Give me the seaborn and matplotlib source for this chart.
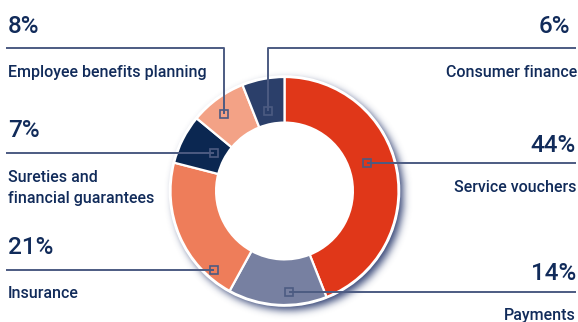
import numpy as np
import matplotlib
matplotlib.use("Agg")
import matplotlib.pyplot as plt
import seaborn as sns
from matplotlib.patches import Circle

# Portfolio breakdown by business line (share of total, %)
segments = ["Service vouchers", "Payments", "Insurance",
            "Sureties and\nfinancial guarantees", "Employee benefits planning",
            "Consumer finance"]
shares = [44, 14, 21, 7, 8, 6]
pct_labels = [f"{v}%" for v in shares]
colors = ["#E03719", "#7780A1", "#EE7D5A", "#0B2751", "#F3A286", "#2B3F6A"]

sns.set_theme(style="white")
plt.rcParams["font.family"] = ["Roboto", "DejaVu Sans"]

TXT = "#112B5A"
LINE = "#4C5B82"
W, H = 578, 322

fig = plt.figure(figsize=(W / 100, H / 100), dpi=100)
ax = fig.add_axes([0, 0, 1, 1])

cx, cy, R = 284.5, 191.0, 114.0

# soft drop shadow below/right of the ring
yy, xx = np.mgrid[0:H, 0:W] + 0.5
disk = (((xx - (cx + 4)) ** 2 + (yy - (cy + 4)) ** 2) <= (R + 1) ** 2).astype(float)
sig = 4.0
k = np.exp(-0.5 * (np.arange(-12, 13) / sig) ** 2)
k /= k.sum()
blur = np.apply_along_axis(lambda r: np.convolve(r, k, mode="same"), 1, disk)
blur = np.apply_along_axis(lambda c: np.convolve(c, k, mode="same"), 0, blur)
shadow = np.zeros((H, W, 4))
shadow[..., :3] = np.array([0x2A, 0x3A, 0x6E]) / 255.0
shadow[..., 3] = np.clip(blur * 0.95, 0, 1)
ax.imshow(shadow, extent=(0, W, H, 0), origin="upper", zorder=0, interpolation="bilinear")

# white rim + hole
ax.add_patch(Circle((cx, cy), R + 1.8, facecolor="white", edgecolor="none", zorder=1))

wedges, _ = ax.pie(shares, colors=colors, radius=R, center=(cx, cy),
                   startangle=-90, counterclock=True, frame=True,
                   wedgeprops=dict(width=R * 0.4, edgecolor="white", linewidth=1.6))
for w in wedges:
    w.set_zorder(2)
ax.add_patch(Circle((cx, cy), R * 0.6 - 0.5, facecolor="white", edgecolor="none", zorder=1.5))

ax.set_xlim(0, W)
ax.set_ylim(H, 0)
ax.set_aspect("equal")
ax.axis("off")

# leader lines: (polyline points, marker point)
leaders = {
    "Employee benefits planning": ([(6, 48), (224, 48), (224, 114)], (224, 114)),
    "Consumer finance": ([(576, 48), (268, 48), (268, 111)], (268, 111)),
    "Sureties and\nfinancial guarantees": ([(6, 153), (214, 153)], (214, 153)),
    "Service vouchers": ([(576, 163), (367, 163)], (367, 163)),
    "Insurance": ([(6, 270), (214, 270)], (214, 270)),
    "Payments": ([(576, 292), (289, 292)], (289, 292)),
}
for name, (pts, mk) in leaders.items():
    xs, ys = zip(*pts)
    ax.plot(xs, ys, color=LINE, lw=1.4, zorder=3, solid_capstyle="butt")
    ax.plot([mk[0]], [mk[1]], marker="s", ms=5.5, mfc="none", mec=LINE, mew=1.2, zorder=4)

# text blocks: (pct baseline y, label baseline y, x, align)
layout = {
    "Employee benefits planning": (32.5, 76.5, 8, "left"),
    "Consumer finance": (32.5, 76.5, 577, "right"),
    "Sureties and\nfinancial guarantees": (136.5, 182, 8, "left"),
    "Service vouchers": (152, 192, 576, "right"),
    "Insurance": (254, 298, 8, "left"),
    "Payments": (280, 320, 576, "right"),
}
pct_x = {"Consumer finance": 570}
for name, pct in zip(segments, pct_labels):
    py, ly, x, ha = layout[name]
    ax.text(pct_x.get(name, x), py, pct, ha=ha, va="baseline", fontsize=17.5,
            fontweight="medium", color=TXT, zorder=5)
    for i, line in enumerate(name.split("\n")):
        ax.text(x, ly + i * 21, line, ha=ha, va="baseline", fontsize=11.5,
                fontweight="medium", color=TXT, zorder=5)

fig.savefig("out.png", dpi=100)
